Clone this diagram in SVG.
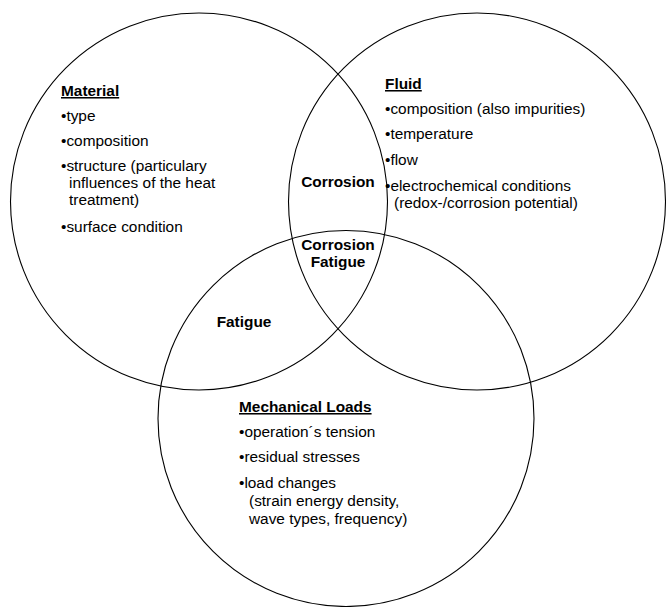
<svg xmlns="http://www.w3.org/2000/svg" width="669" height="607" viewBox="0 0 669 607">
<style>
  .ring { fill: none; stroke: #000; stroke-width: 1.1; }
  text { font-family: "Liberation Sans", Arial, sans-serif; font-size: 15.4px; fill: #000; }
  .head { font-weight: bold; text-decoration: underline; }
  .bold { font-weight: bold; }
</style>
<rect width="669" height="607" fill="#fff"/>
<g id="material">
  <circle class="ring" cx="199" cy="201.5" r="188.5"/>
  <text class="head" x="61" y="96">Material</text>
  <text x="61" y="121">•type</text>
  <text x="61" y="146">•composition</text>
  <text x="61" y="171">•structure (particulary</text>
  <text x="69" y="188">influences of the heat</text>
  <text x="69" y="205">treatment)</text>
  <text x="61" y="232">•surface condition</text>
</g>
<g id="fluid">
  <circle class="ring" cx="477" cy="201.5" r="188.5"/>
  <text class="head" x="385" y="89">Fluid</text>
  <text x="385" y="114">•composition (also impurities)</text>
  <text x="385" y="139">•temperature</text>
  <text x="385" y="165">•flow</text>
  <text x="385" y="191">•electrochemical conditions</text>
  <text x="394" y="208">(redox-/corrosion potential)</text>
</g>
<g id="mechanical-loads">
  <circle class="ring" cx="346" cy="418.5" r="188"/>
  <text class="head" x="239" y="412">Mechanical Loads</text>
  <text x="239" y="437">•operation´s tension</text>
  <text x="239" y="462">•residual stresses</text>
  <text x="239" y="488">•load changes</text>
  <text x="249" y="506">(strain energy density,</text>
  <text x="249" y="524">wave types, frequency)</text>
</g>
<g id="corrosion">
  <text class="bold" x="338" y="187" text-anchor="middle">Corrosion</text>
</g>
<g id="corrosion-fatigue">
  <text class="bold" x="338" y="250" text-anchor="middle">Corrosion</text>
  <text class="bold" x="338" y="267" text-anchor="middle">Fatigue</text>
</g>
<g id="fatigue">
  <text class="bold" x="244" y="327" text-anchor="middle">Fatigue</text>
</g>
</svg>
